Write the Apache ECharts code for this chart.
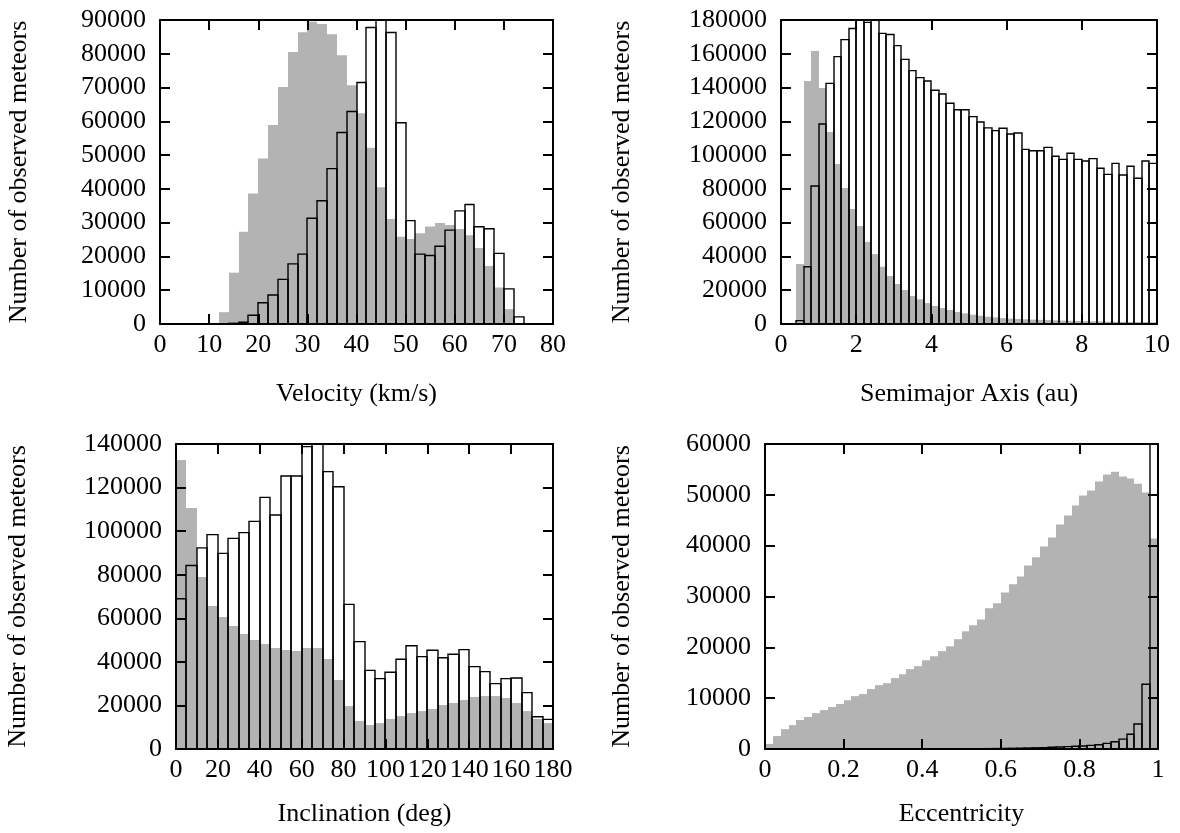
<!DOCTYPE html>
<html>
<head>
<meta charset="utf-8">
<script src="https://cdn.jsdelivr.net/npm/echarts@6/dist/echarts.min.js"></script>
<style>
  html, body { margin: 0; padding: 0; background: #fff; }
  #chart { width: 1180px; height: 833px; }
</style>
</head>
<body>
<div id="chart"></div>
<script>
// ---- Velocity (km/s), 2 km/s bins from 12 km/s ----
const velocityBinStart = 12;
const velocityBinWidth = 2;
const velocityAll = [3500, 15200, 27300, 38600, 49000, 58900, 70200, 80500, 86400, 89500,
  88800, 85800, 79600, 70700, 62400, 52200, 40500, 31100, 25800, 25200,
  26900, 28900, 29900, 29300, 28100, 26300, 22500, 17200, 10800, 4400, 0];
const velocitySubset = [0, 200, 500, 2600, 6300, 8600, 13200, 17800, 20700, 31300,
  36500, 46000, 56700, 62900, 71500, 87800, 93000, 86300, 59600, 30600,
  20700, 20300, 23000, 27800, 33500, 35400, 28800, 28200, 20900, 10400, 2100];

// ---- Semimajor axis (au), 0.2 au bins from 0.4 au ----
const axisBinStart = 0.4;
const axisBinWidth = 0.2;
const axisAll = [35500, 143900, 161600, 139700, 113700, 94700, 80500, 68100, 58000, 48600,
  41400, 33900, 28400, 23700, 20100, 16600, 14600, 12400, 10700, 9500,
  8300, 7100, 6300, 5500, 4900, 4300, 3900, 3500, 3200, 3000,
  2800, 2600, 2450, 2300, 2150, 2000, 1900, 1800, 1700, 1600,
  1500, 1400, 1350, 1300, 1200, 1150, 1100, 1050];
const axisSubset = [2000, 33900, 81700, 118400, 142500, 158300, 168400, 175000, 181000, 178600,
  180500, 172100, 171400, 164800, 156700, 150000, 145900, 143900, 138400, 136200,
  130700, 126900, 126900, 122800, 119600, 116100, 114500, 115900, 112500, 113100,
  103400, 102600, 102600, 104600, 99300, 97500, 101100, 97500, 96500, 97900,
  92200, 88600, 95100, 88200, 93400, 86300, 96500, 95100];

// ---- Inclination (deg), 5 deg bins from 0 ----
const inclBinStart = 0;
const inclBinWidth = 5;
const inclAll = [132700, 110600, 78900, 65600, 60600, 56500, 52800, 50000, 48200, 46400,
  45400, 45000, 46400, 46400, 41300, 31700, 19700, 12900, 11000, 11900,
  13800, 15100, 16500, 17400, 18400, 20200, 21100, 22500, 23900, 24300,
  24300, 23400, 21100, 17400, 13800, 11900];
const inclSubset = [69000, 84200, 92300, 98400, 89800, 96700, 99300, 104500, 115500, 107400,
  125300, 125300, 138800, 143000, 127300, 120400, 66400, 49300, 36100, 32300,
  35200, 41200, 47400, 42400, 45300, 41900, 43500, 45600, 37800, 35500,
  30000, 32300, 32600, 25900, 14800, 13600];

// ---- Eccentricity, 0.02 bins from 0 ----
const eccBinStart = 0;
const eccBinWidth = 0.02;
const eccAll = [1000, 2550, 3900, 4700, 5700, 6300, 7050, 7650, 8250, 8850,
  9600, 10400, 10800, 11800, 12550, 12950, 13950, 14700, 15700, 16300,
  17450, 18250, 19250, 20200, 21600, 23150, 24350, 25500, 27700, 28650,
  30800, 32400, 33950, 36100, 37700, 39850, 41600, 44150, 45950, 47900,
  49850, 50850, 52600, 54000, 54550, 53600, 53200, 52200, 50450, 41400];
const eccSubset = [0, 0, 0, 0, 0, 0, 0, 0, 0, 0,
  0, 0, 0, 0, 0, 0, 0, 0, 0, 0,
  10, 15, 20, 25, 30, 40, 50, 60, 75, 90,
  110, 130, 160, 190, 230, 280, 330, 390, 460, 530,
  600, 720, 850, 1110, 1440, 1950, 2890, 4920, 12750, 62000];

// ---- Axis ranges and titles ----
const panels = [
  { xName: 'Velocity (km/s)', xMin: 0, xMax: 80, xStep: 10, yMax: 90000, yStep: 10000,
    start: velocityBinStart, width: velocityBinWidth, all: velocityAll, subset: velocitySubset },
  { xName: 'Semimajor Axis (au)', xMin: 0, xMax: 10, xStep: 2, yMax: 180000, yStep: 20000,
    start: axisBinStart, width: axisBinWidth, all: axisAll, subset: axisSubset },
  { xName: 'Inclination (deg)', xMin: 0, xMax: 180, xStep: 20, yMax: 140000, yStep: 20000,
    start: inclBinStart, width: inclBinWidth, all: inclAll, subset: inclSubset },
  { xName: 'Eccentricity', xMin: 0, xMax: 1, xStep: 0.2, yMax: 60000, yStep: 10000,
    start: eccBinStart, width: eccBinWidth, all: eccAll, subset: eccSubset }
];
const yName = 'Number of observed meteors';

const FONT = "'Liberation Serif', 'Times New Roman', serif";
const FS = 26;

const grids = [
  { left: 160, top: 20, width: 393, height: 304 },
  { left: 781, top: 20, width: 376, height: 304 },
  { left: 176, top: 444, width: 377, height: 305 },
  { left: 765, top: 444, width: 393, height: 305 }
];
const yNameGaps = [128, 146, 145, 130];
const xNameGaps = [57, 57, 52, 52];

const lineStyle = { color: '#000', width: 2 };
const tickStyle = { show: true, inside: true, length: 10, lineStyle: { color: '#000', width: 2 } };
const plainNumber = v => String(+Number(v).toFixed(6));
const labelStyle = { color: '#000', fontFamily: FONT, fontSize: FS, formatter: plainNumber };

const xAxes = [], yAxes = [], series = [];

panels.forEach((p, g) => {
  const common = { type: 'value', gridIndex: g, min: p.xMin, max: p.xMax, interval: p.xStep,
    splitLine: { show: false }, axisLine: { show: true, onZero: false, lineStyle }, axisTick: tickStyle, z: 5 };
  xAxes.push(Object.assign({}, common, {
    position: 'bottom',
    axisLabel: Object.assign({ margin: 8 }, labelStyle),
    name: p.xName, nameLocation: 'middle', nameGap: xNameGaps[g],
    nameTextStyle: { color: '#000', fontFamily: FONT, fontSize: FS }
  }));
  xAxes.push(Object.assign({}, common, { position: 'top', axisLabel: { show: false } }));

  const ycommon = { type: 'value', gridIndex: g, min: 0, max: p.yMax, interval: p.yStep,
    splitLine: { show: false }, axisLine: { show: true, onZero: false, lineStyle }, axisTick: tickStyle, z: 5 };
  yAxes.push(Object.assign({}, ycommon, {
    position: 'left',
    axisLabel: Object.assign({ margin: 14 }, labelStyle),
    name: yName, nameLocation: 'middle', nameGap: yNameGaps[g],
    nameTextStyle: { color: '#000', fontFamily: FONT, fontSize: FS }
  }));
  yAxes.push(Object.assign({}, ycommon, { position: 'right', axisLabel: { show: false } }));

  const makeData = vals => vals.map((v, i) => [p.start + i * p.width, p.start + (i + 1) * p.width, v]);

  const render = filled => function (params, api) {
    const v = api.value(2);
    if (!(v > 0)) return;
    const a = api.coord([api.value(0), 0]);
    const b = api.coord([api.value(1), v]);
    const l = Math.round(a[0]), r = Math.round(b[0]);
    const cs = params.coordSys;
    const shape = echarts.graphic.clipRectByRect(
      { x: l, y: b[1], width: r - l, height: a[1] - b[1] },
      { x: cs.x, y: cs.y, width: cs.width, height: cs.height });
    if (!shape) return;
    return {
      type: 'rect', shape,
      style: filled ? { fill: '#b3b3b3' } : { fill: null, stroke: '#000', lineWidth: 1.4 }
    };
  };

  series.push({
    type: 'custom', xAxisIndex: 2 * g, yAxisIndex: 2 * g, z: 2,
    encode: { x: [0, 1], y: 2 }, data: makeData(p.all), renderItem: render(true), silent: true
  });
  series.push({
    type: 'custom', xAxisIndex: 2 * g, yAxisIndex: 2 * g, z: 3,
    encode: { x: [0, 1], y: 2 }, data: makeData(p.subset), renderItem: render(false), silent: true
  });
});

const chart = echarts.init(document.getElementById('chart'), null, { renderer: 'canvas' });
chart.setOption({
  animation: false,
  backgroundColor: '#fff',
  grid: grids,
  xAxis: xAxes,
  yAxis: yAxes,
  series
});
</script>
</body>
</html>
